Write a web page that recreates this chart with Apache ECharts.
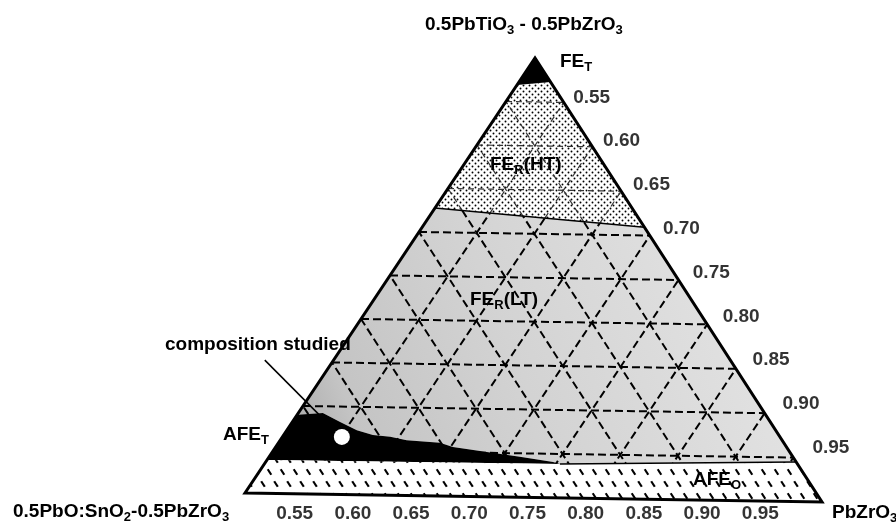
<!DOCTYPE html>
<html><head><meta charset="utf-8">
<script src="https://cdn.jsdelivr.net/npm/echarts@6/dist/echarts.min.js"></script>
<style>html,body{margin:0;padding:0;background:#fff}#c{width:896px;height:527px}</style>
</head><body><div id="c"></div>
<script>
// Compositions are ternary fractions [top, right]; left = 1 - top - right.
const rightTicks = ['0.55','0.60','0.65','0.70','0.75','0.80','0.85','0.90','0.95'];
const bottomTicks = ['0.55','0.60','0.65','0.70','0.75','0.80','0.85','0.90','0.95'];
const feTBoundary = [[0.938, 0], [0.946, 0.054]];
const htBoundary = [[0.655, 0], [0.619, 0.381]];
const afeOBoundary = [[0.076, 0], [0.077, 0.507], [0.090, 0.910]];
const afeTBoundary = [[0.180,0],[0.185,0.042],[0.165,0.082],[0.147,0.120],[0.1365,0.153],[0.133,0.185],[0.126,0.217],[0.121,0.277],[0.112,0.304],[0.102,0.368],[0.092,0.430],[0.0815,0.493],[0.077,0.507]];
const studied = [0.131, 0.102];
const leader = [[0.303, -0.118], [0.149, 0.078]];

const FONT = "'Liberation Sans', Arial, Helvetica, sans-serif";
// triangle vertices in the (hidden) cartesian axis space
const V = { L: [0, 0.0203], R: [1, 0], T: [0.5026, 1] };
function tern(p) {
  const t = p[0], r = p[1], l = 1 - t - r;
  return [t * V.T[0] + l * V.L[0] + r * V.R[0], t * V.T[1] + l * V.L[1] + r * V.R[1]];
}

function dotPattern() {
  const c = document.createElement('canvas'); c.width = 6; c.height = 6;
  const g = c.getContext('2d'); g.fillStyle = '#fff'; g.fillRect(0, 0, 6, 6);
  g.fillStyle = '#000';
  [[1.5, 1.5], [4.5, 4.5]].forEach(function (p) { g.beginPath(); g.arc(p[0], p[1], 0.95, 0, Math.PI * 2); g.fill(); });
  return c;
}
function hatchPattern() {
  const W = 13, H = 24;
  const c = document.createElement('canvas'); c.width = W; c.height = H;
  const g = c.getContext('2d'); g.fillStyle = '#fff'; g.fillRect(0, 0, W, H);
  g.strokeStyle = '#000'; g.lineWidth = 2.2; g.lineCap = 'butt';
  const dx = 0.543 * 3.3, dy = 0.84 * 3.3;
  [[3, 4], [9.5, 16]].forEach(function (p) {
    [-W, 0, W].forEach(function (ox) { [-H, 0, H].forEach(function (oy) {
      g.beginPath(); g.moveTo(p[0] + ox - dx, p[1] + oy - dy); g.lineTo(p[0] + ox + dx, p[1] + oy + dy); g.stroke();
    }); });
  });
  return c;
}

const htPoly = [feTBoundary[0], feTBoundary[1], htBoundary[1], htBoundary[0]];
const ltPoly = [htBoundary[0], htBoundary[1], afeOBoundary[2], afeOBoundary[1]].concat(afeTBoundary.slice(0, -1).reverse());
const feTPoly = [[1, 0], feTBoundary[1], feTBoundary[0]];
const afeTPoly = afeTBoundary.concat([afeOBoundary[0]]);
const afeOPoly = afeOBoundary.concat([[0, 1], [0, 0]]);

function pts(api, arr) { return arr.map(function (p) { return api.coord(tern(p)); }); }

// grid segments, split at the HT/LT boundary
function side(p) {
  const A = htBoundary[0], B = htBoundary[1];
  return (B[0] - A[0]) * (p[1] - A[1]) - (B[1] - A[1]) * (p[0] - A[0]);
}
function gridSegments() {
  const fr = bottomTicks.map(function (s) { return +(2 * (parseFloat(s) - 0.5)).toFixed(4); });
  const segs = [];
  fr.forEach(function (f) {
    segs.push([[f, 0], [f, 1 - f]]);
    segs.push([[0, f], [1 - f, f]]);
    segs.push([[0, 1 - f], [1 - f, 0]]);
  });
  const out = { hi: [], lo: [] };
  segs.forEach(function (s) {
    const a = s[0], b = s[1], ga = side(a), gb = side(b);
    if (ga < 0 && gb < 0) out.hi.push(s);
    else if (ga >= 0 && gb >= 0) out.lo.push(s);
    else {
      const k = ga / (ga - gb);
      const m = [a[0] + (b[0] - a[0]) * k, a[1] + (b[1] - a[1]) * k];
      if (ga < 0) { out.hi.push([a, m]); out.lo.push([m, b]); }
      else { out.lo.push([a, m]); out.hi.push([m, b]); }
    }
  });
  return out;
}
const GS = gridSegments();

const chart = echarts.init(document.getElementById('c'));
const sub = { fontSize: 13, fontWeight: 'bold', fontFamily: FONT, padding: [10, 0, 0, 0] };
function txt(x, y, text) {
  return { type: 'text', x: x, y: y, z: 100,
    style: { text: text, fontSize: 19, fontWeight: 'bold', fontFamily: FONT, fill: '#000',
      align: 'left', verticalAlign: 'middle', textAlign: 'left', textVerticalAlign: 'middle',
      rich: { sub: sub } } };
}

chart.setOption({
  animation: false,
  grid: { left: 245, right: 74, top: 58, bottom: 25 },
  xAxis: { type: 'value', min: 0, max: 1, show: false },
  yAxis: { type: 'value', min: 0, max: 1, show: false },
  graphic: [
    txt(425, 25, '0.5PbTiO{sub|3} - 0.5PbZrO{sub|3}'),
    txt(560, 62, 'FE{sub|T}'),
    txt(490, 165, 'FE{sub|R}(HT)'),
    txt(470, 300, 'FE{sub|R}(LT)'),
    txt(165, 345, 'composition studied'),
    txt(223, 435, 'AFE{sub|T}'),
    txt(693, 480, 'AFE{sub|O}'),
    txt(13, 512, '0.5PbO:SnO{sub|2}-0.5PbZrO{sub|3}'),
    txt(832, 513, 'PbZrO{sub|3}')
  ],
  series: [
    { type: 'custom', coordinateSystem: 'cartesian2d', data: [[0, 0]], silent: true,
      renderItem: function (params, api) {
        return { type: 'group', children: [
          { type: 'polygon', shape: { points: pts(api, ltPoly) },
            style: { fill: { type: 'linear', x: 0, y: 1, x2: 1, y2: 0.2, colorStops: [
              { offset: 0, color: '#a8a8a8' }, { offset: 0.13, color: '#c4c4c4' },
              { offset: 0.45, color: '#d3d3d3' }, { offset: 1, color: '#e6e6e6' }] } } },
          { type: 'polygon', shape: { points: pts(api, htPoly) },
            style: { fill: { image: dotPattern(), repeat: 'repeat' } } }
        ] };
      } },
    { type: 'custom', coordinateSystem: 'cartesian2d', data: [[0, 0]], silent: true,
      renderItem: function (params, api) {
        const ch = [];
        GS.lo.forEach(function (s) {
          const p = pts(api, s);
          ch.push({ type: 'line', shape: { x1: p[0][0], y1: p[0][1], x2: p[1][0], y2: p[1][1] },
            style: { stroke: '#000', lineWidth: 2, lineDash: [8, 4] } });
        });
        GS.hi.forEach(function (s) {
          const p = pts(api, s);
          ch.push({ type: 'line', shape: { x1: p[0][0], y1: p[0][1], x2: p[1][0], y2: p[1][1] },
            style: { stroke: '#333', lineWidth: 1.2, lineDash: [6, 4] } });
        });
        return { type: 'group', children: ch };
      } },
    { type: 'custom', coordinateSystem: 'cartesian2d', data: [[0, 0]], silent: true,
      renderItem: function (params, api) {
        return { type: 'group', children: [
          { type: 'polygon', shape: { points: pts(api, feTPoly) }, style: { fill: '#000' } },
          { type: 'polygon', shape: { points: pts(api, afeTPoly) }, style: { fill: '#000' } },
          { type: 'polygon', shape: { points: pts(api, afeOPoly) },
            style: { fill: { image: hatchPattern(), repeat: 'repeat' } } },
          { type: 'polyline', shape: { points: pts(api, htBoundary) }, style: { stroke: '#000', lineWidth: 1.5, fill: null } },
          { type: 'polyline', shape: { points: pts(api, afeOBoundary.slice(1)) }, style: { stroke: '#000', lineWidth: 1.5, fill: null } },
          { type: 'polygon', shape: { points: pts(api, [[0, 0], [0, 1], [1, 0]]) },
            style: { fill: null, stroke: '#000', lineWidth: 3, lineJoin: 'miter' } },
          { type: 'polyline', shape: { points: pts(api, leader) }, style: { stroke: '#000', lineWidth: 1.5, fill: null } }
        ] };
      } },
    { type: 'scatter', silent: true, data: [tern(studied)], symbolSize: 16,
      itemStyle: { color: '#fff', opacity: 1 } },
    { type: 'scatter', silent: true, symbolSize: 1, itemStyle: { color: 'rgba(0,0,0,0)' },
      label: { show: true, position: 'right', distance: 0, fontSize: 19, fontWeight: 'bold', fontFamily: FONT, color: '#000' },
      data: rightTicks.map(function (s, i) {
        const t = 2 * (1 - parseFloat(s));
        return { value: tern([t, 1 - t]), label: { formatter: s, offset: [9 + 1.2 * i, -5 - 0.6 * i] } };
      }) },
    { type: 'scatter', silent: true, symbolSize: 1, itemStyle: { color: 'rgba(0,0,0,0)' },
      label: { show: true, position: 'inside', fontSize: 19, fontWeight: 'bold', fontFamily: FONT, color: '#000' },
      data: bottomTicks.map(function (s, i) {
        const r = 2 * (parseFloat(s) - 0.5);
        return { value: tern([0, r]), label: { formatter: s, offset: [-8 + 0.5 * i, 19.6 - 0.9 * i] } };
      }) }
  ]
});
</script>
</body></html>
